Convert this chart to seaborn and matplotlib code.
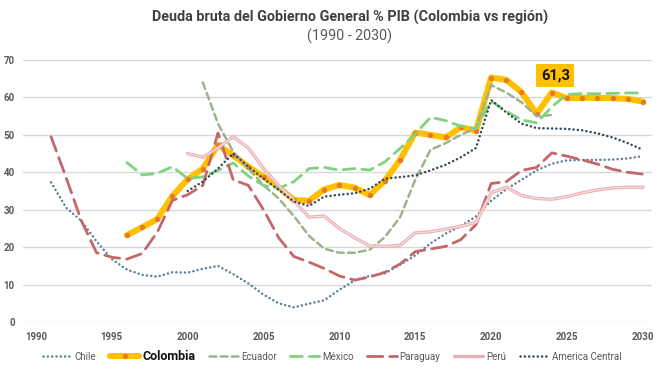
import numpy as np
import pandas as pd
import matplotlib
matplotlib.use("Agg")
import matplotlib.pyplot as plt
import seaborn as sns

# ---------------- data ----------------
chile_years = list(range(1991, 2031))
chile = [37.3, 30.5, 27.0, 21.5, 16.8, 14.0, 12.6, 12.1, 13.3, 13.2,
         14.2, 15.0, 12.8, 10.3, 7.3, 5.0, 3.9, 4.9, 5.8, 8.6,
         11.1, 12.3, 13.0, 15.3, 17.8, 21.0, 23.6, 25.6, 28.2, 32.4,
         35.5, 38.0, 40.5, 42.3, 43.2, 43.3, 43.3, 43.4, 43.7, 44.3]

colombia_years = list(range(1996, 2031))
colombia = [23.2, 25.3, 27.5, 33.7, 38.1, 41.0, 47.3, 44.5, 41.5, 38.8,
            36.0, 32.6, 32.4, 35.4, 36.6, 35.9, 33.9, 37.8, 43.3, 50.6,
            50.0, 49.3, 52.0, 51.1, 65.3, 64.7, 61.4, 55.6, 61.3, 59.8,
            59.9, 59.9, 59.8, 59.6, 58.9]

ecuador_years = list(range(2001, 2025))
ecuador = [64.0, 53.0, 45.5, 41.0, 36.5, 33.0, 28.3, 23.0, 19.6, 18.5,
           18.5, 19.3, 22.7, 28.0, 38.0, 46.0, 47.8, 50.0, 51.8, 63.3,
           61.3, 58.7, 55.0, 55.3]

mexico_years = list(range(1996, 2031))
mexico = [42.6, 39.3, 39.7, 41.5, 38.3, 38.8, 40.5, 42.5, 39.0, 36.5,
          35.7, 37.5, 41.0, 41.3, 40.6, 41.0, 40.6, 42.8, 46.4, 50.2,
          54.7, 53.8, 52.3, 51.7, 59.0, 56.3, 54.0, 53.2, 57.5, 60.8,
          61.0, 61.0, 61.1, 61.2, 61.2]

paraguay_years = list(range(1991, 2031))
paraguay = [49.5, 38.5, 27.0, 18.5, 17.3, 16.8, 18.3, 24.0, 32.5, 34.0,
            36.5, 50.5, 38.0, 36.5, 30.0, 22.5, 17.5, 16.0, 14.3, 12.3,
            11.2, 12.0, 13.3, 15.5, 18.8, 19.5, 20.2, 22.0, 26.0, 37.0,
            37.5, 40.5, 41.3, 45.2, 44.3, 43.3, 42.2, 40.8, 40.0, 39.5]

peru_years = list(range(2000, 2031))
peru = [45.0, 44.0, 46.5, 49.5, 46.5, 41.0, 36.5, 32.5, 28.0, 28.3,
        25.0, 22.5, 20.3, 20.2, 20.5, 23.8, 24.1, 24.8, 25.6, 26.6,
        34.5, 36.0, 33.8, 33.0, 32.8, 33.5, 34.5, 35.3, 35.8, 36.0, 36.0]

ac_years = list(range(2000, 2031))
america_central = [35.0, 37.5, 41.0, 45.0, 41.5, 38.3, 35.3, 32.2, 31.0, 33.5,
                   34.0, 34.4, 35.6, 38.3, 38.7, 39.2, 40.5, 42.0, 44.0, 46.5,
                   59.3, 56.0, 53.0, 51.8, 51.7, 51.6, 51.2, 50.4, 49.3, 47.8, 46.0]

x_ticks = [1990, 1995, 2000, 2005, 2010, 2015, 2020, 2025, 2030]
y_ticks = [0, 10, 20, 30, 40, 50, 60, 70]
title = "Deuda bruta del Gobierno General % PIB (Colombia vs región)"
subtitle = "(1990 - 2030)"
highlight_year, highlight_label = 2024, "61,3"

# ---------------- style ----------------
sns.set_theme(style="white")
plt.rcParams["font.family"] = ["Roboto", "DejaVu Sans"]
plt.rcParams["lines.scale_dashes"] = False

fig = plt.figure(figsize=(6.61, 3.77), dpi=100)
ax = fig.add_axes([23 / 661, 1 - 322 / 377, (652 - 23) / 661, (322 - 60) / 377])

series = [
    ("Chile", chile_years, chile, dict(color="#5B8296", lw=1.8, ls=(0, (0.1, 3.0)))),
    ("Colombia", colombia_years, colombia, dict(color="#FFC000", lw=4.4, ls="-")),
    ("Ecuador", ecuador_years, ecuador, dict(color="#9CB48E", lw=1.8, ls=(0, (5, 3)))),
    ("México", mexico_years, mexico, dict(color="#7FD27F", lw=2.0, ls=(0, (8.5, 5)))),
    ("Paraguay", paraguay_years, paraguay, dict(color="#C5676A", lw=2.0, ls=(0, (11, 5)))),
    ("Perú", peru_years, peru, dict(color="#E8B0B6", lw=2.4, ls="-")),
    ("America Central", ac_years, america_central, dict(color="#34495A", lw=1.8, ls=(0, (0.1, 3.0)))),
]

for name, yrs, vals, st in series:
    kw = {}
    if name == "Colombia":
        kw = dict(marker="o", markersize=3, markerfacecolor="#E8792A",
                  markeredgecolor="#E8792A")
    sns.lineplot(x=yrs, y=vals, ax=ax, label=name, color=st["color"],
                 linewidth=st["lw"], linestyle=st["ls"], **kw)
    ln = ax.lines[-1]
    if isinstance(st["ls"], tuple):
        ln.set_dash_capstyle("round")
    if name == "Perú":
        ax.plot(yrs, vals, color="#FBE7E9", lw=0.7, label="_nolegend_")

# highlight label
hi = colombia[colombia_years.index(highlight_year)]
ax.annotate(highlight_label, xy=(highlight_year, hi), xytext=(2.5, 12.5),
            textcoords="offset points", ha="center", va="center",
            fontsize=10.5, fontweight="bold", color="#111111",
            bbox=dict(boxstyle="square,pad=0.3", fc="#FFC000", ec="none"))

ax.set_xlim(1989.15, 2030.6)
ax.set_ylim(0, 70)
ax.set_xticks(x_ticks)
ax.set_yticks(y_ticks)
ax.grid(axis="y", color="#D9D9D9", lw=1.0)
ax.grid(axis="x", visible=False)
for s in ax.spines.values():
    s.set_visible(False)
ax.tick_params(axis="both", length=0, labelsize=7, labelcolor="#595959")
ax.tick_params(axis="y", pad=6)
ax.tick_params(axis="x", pad=7)
for t in ax.get_xticklabels() + ax.get_yticklabels():
    t.set_fontweight("bold")
ax.set_xlabel("")
ax.set_ylabel("")

# legend
handles, labels = ax.get_legend_handles_labels()
ax.get_legend().remove()
leg = fig.legend(handles, labels, loc="center", bbox_to_anchor=(332 / 661, 1 - 356 / 377),
                 ncol=7, frameon=False, fontsize=7, handlelength=3.0, numpoints=1,
                 handletextpad=0.3, columnspacing=1.4, labelcolor="#595959")
for t in leg.get_texts():
    if t.get_text() == "Colombia":
        t.set_fontweight("bold")
        t.set_fontsize(9)
        t.set_color("#111111")

fig.text(350 / 661, 1 - 17 / 377, title, ha="center", va="center",
         fontsize=10.4, fontweight="bold", color="#404040")
fig.text(350 / 661, 1 - 36 / 377, subtitle, ha="center", va="center",
         fontsize=10.3, color="#595959")

fig.savefig("out.png", dpi=100)
